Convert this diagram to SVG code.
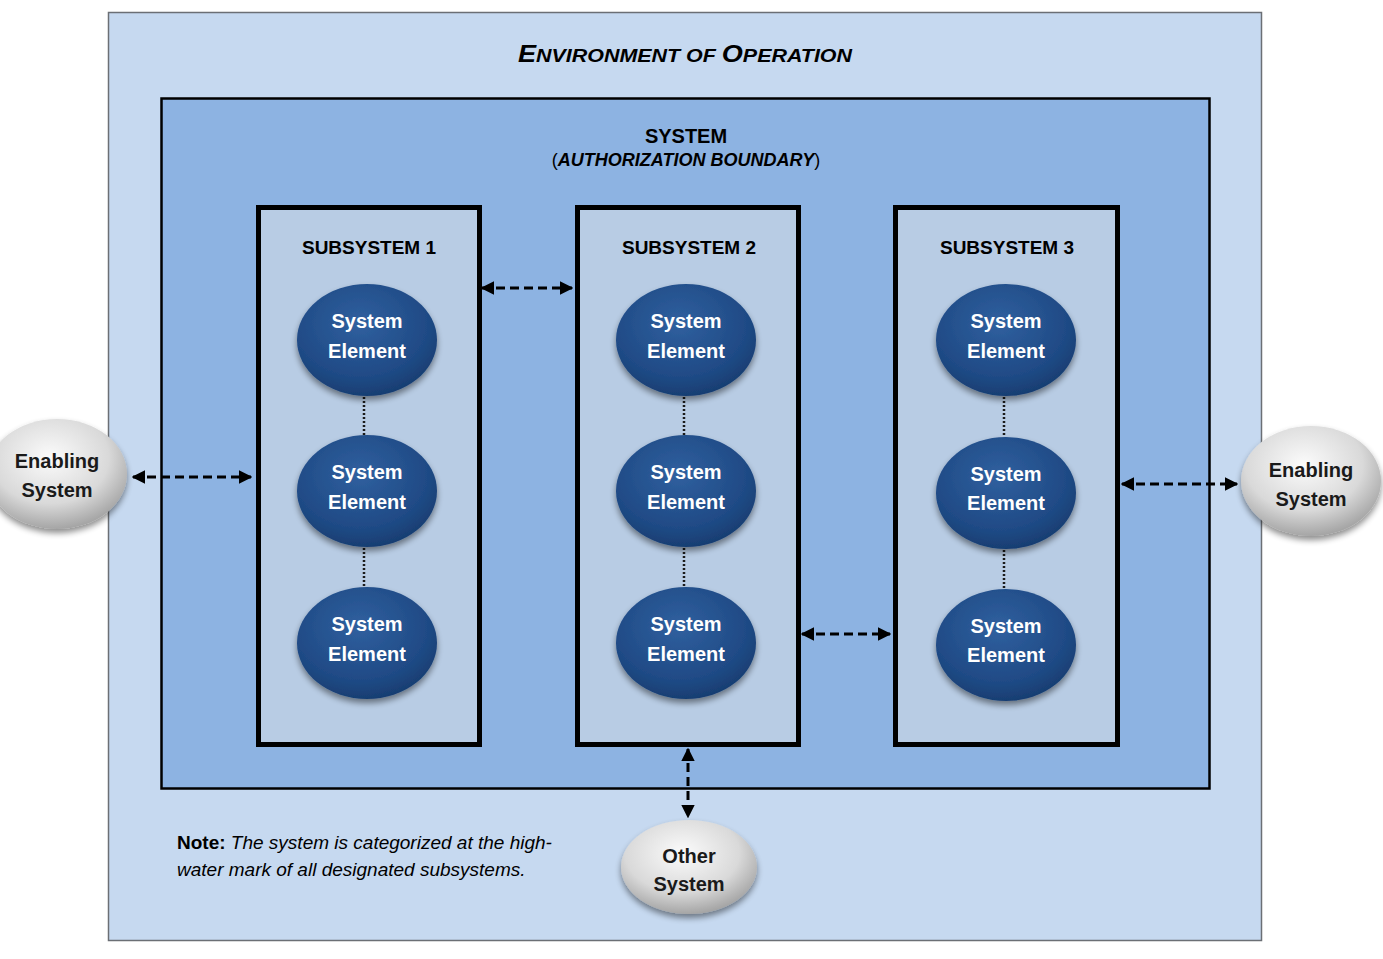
<svg xmlns="http://www.w3.org/2000/svg" width="1383" height="959" viewBox="0 0 1383 959">
<style>
.env{fill:#c6d9f0;stroke:#6b6f75;stroke-width:1.5}
.sys{fill:#8db3e2;stroke:#000;stroke-width:2.5}
.sub{fill:#b8cce4;stroke:#000;stroke-width:5}
.el{fill:url(#blue);filter:url(#sh)}
.ge{fill:url(#gray);filter:url(#sh)}
.wt{font-family:"Liberation Sans",Arial,sans-serif;font-weight:bold;font-size:20px;fill:#fff;text-anchor:middle}
.bt{font-family:"Liberation Sans",Arial,sans-serif;font-weight:bold;font-size:20px;fill:#1a1a1a;text-anchor:middle}
.hd{font-family:"Liberation Sans",Arial,sans-serif;font-weight:bold;fill:#000;text-anchor:middle}
.dot{stroke:#1a1a1a;stroke-width:2.5;stroke-dasharray:2 2;fill:none}
.arr{stroke:#000;stroke-width:3;stroke-dasharray:9 5;fill:none;marker-start:url(#ah);marker-end:url(#ah)}
</style>
<defs>
<radialGradient id="blue" cx="0.45" cy="0.35" r="0.7">
<stop offset="0" stop-color="#30609f"/>
<stop offset="0.7" stop-color="#1f4a85"/>
<stop offset="1" stop-color="#163a6c"/>
</radialGradient>
<radialGradient id="gray" cx="0.45" cy="0.35" r="0.7">
<stop offset="0" stop-color="#fbfbfb"/>
<stop offset="0.6" stop-color="#d9d9d9"/>
<stop offset="1" stop-color="#9a9a9a"/>
</radialGradient>
<filter id="sh" x="-20%" y="-20%" width="140%" height="150%">
<feGaussianBlur in="SourceAlpha" stdDeviation="3"/>
<feOffset dx="0" dy="4" result="b"/>
<feComponentTransfer><feFuncA type="linear" slope="0.45"/></feComponentTransfer>
<feMerge><feMergeNode/><feMergeNode in="SourceGraphic"/></feMerge>
</filter>
<marker id="ah" viewBox="0 0 10 10" refX="9" refY="5" markerWidth="4.5" markerHeight="4.5" orient="auto-start-reverse" markerUnits="strokeWidth">
<path d="M0,0 L10,5 L0,10 Z" fill="#000"/>
</marker>
</defs>
<rect width="1383" height="959" fill="#fff"/>
<g id="environment">
<rect class="env" x="108.5" y="12.5" width="1153" height="928"/>
<text class="hd" x="685" y="62" font-style="italic" textLength="334" lengthAdjust="spacingAndGlyphs"><tspan font-size="24">E</tspan><tspan font-size="19">NVIRONMENT OF </tspan><tspan font-size="24">O</tspan><tspan font-size="19">PERATION</tspan></text>
</g>
<g id="system">
<rect class="sys" x="161.5" y="98.5" width="1048" height="690"/>
<text class="hd" x="686" y="143" font-size="20">SYSTEM</text>
<text class="hd" x="686" y="166" font-size="18"><tspan font-weight="normal">(</tspan><tspan font-style="italic">AUTHORIZATION BOUNDARY</tspan><tspan font-weight="normal">)</tspan></text>
</g>
<g id="subsystem1">
<rect class="sub" x="258.5" y="207.5" width="221" height="537"/>
<text class="hd" x="369" y="254" font-size="19">SUBSYSTEM 1</text>
</g>
<g id="subsystem2">
<rect class="sub" x="577.5" y="207.5" width="221" height="537"/>
<text class="hd" x="689" y="254" font-size="19">SUBSYSTEM 2</text>
</g>
<g id="subsystem3">
<rect class="sub" x="895.5" y="207.5" width="222" height="537"/>
<text class="hd" x="1007" y="254" font-size="19">SUBSYSTEM 3</text>
</g>
<g id="connectors">
<line class="dot" x1="364" y1="397" x2="364" y2="436"/>
<line class="dot" x1="364" y1="548" x2="364" y2="588"/>
<line class="dot" x1="684" y1="397" x2="684" y2="436"/>
<line class="dot" x1="684" y1="548" x2="684" y2="588"/>
<line class="dot" x1="1004" y1="397" x2="1004" y2="437"/>
<line class="dot" x1="1004" y1="550" x2="1004" y2="590"/>
<line class="arr" x1="133" y1="477" x2="251" y2="477"/>
<line class="arr" x1="482" y1="288" x2="572" y2="288"/>
<line class="arr" x1="802" y1="634" x2="890" y2="634"/>
<line class="arr" x1="1122" y1="484" x2="1237" y2="484"/>
<line class="arr" x1="688" y1="749" x2="688" y2="817"/>
</g>
<g id="ss1-e1"><ellipse class="el" cx="367" cy="340" rx="70" ry="56"/><text class="wt" x="367" y="328">System</text><text class="wt" x="367" y="358">Element</text></g>
<g id="ss1-e2"><ellipse class="el" cx="367" cy="491" rx="70" ry="56"/><text class="wt" x="367" y="479">System</text><text class="wt" x="367" y="509">Element</text></g>
<g id="ss1-e3"><ellipse class="el" cx="367" cy="643" rx="70" ry="56"/><text class="wt" x="367" y="631">System</text><text class="wt" x="367" y="661">Element</text></g>
<g id="ss2-e1"><ellipse class="el" cx="686" cy="340" rx="70" ry="56"/><text class="wt" x="686" y="328">System</text><text class="wt" x="686" y="358">Element</text></g>
<g id="ss2-e2"><ellipse class="el" cx="686" cy="491" rx="70" ry="56"/><text class="wt" x="686" y="479">System</text><text class="wt" x="686" y="509">Element</text></g>
<g id="ss2-e3"><ellipse class="el" cx="686" cy="643" rx="70" ry="56"/><text class="wt" x="686" y="631">System</text><text class="wt" x="686" y="661">Element</text></g>
<g id="ss3-e1"><ellipse class="el" cx="1006" cy="340" rx="70" ry="56"/><text class="wt" x="1006" y="328">System</text><text class="wt" x="1006" y="358">Element</text></g>
<g id="ss3-e2"><ellipse class="el" cx="1006" cy="493" rx="70" ry="56"/><text class="wt" x="1006" y="481">System</text><text class="wt" x="1006" y="510">Element</text></g>
<g id="ss3-e3"><ellipse class="el" cx="1006" cy="645" rx="70" ry="56"/><text class="wt" x="1006" y="633">System</text><text class="wt" x="1006" y="662">Element</text></g>
<g id="enabling-left"><ellipse class="ge" cx="57" cy="474" rx="70" ry="55"/><text class="bt" x="57" y="468">Enabling</text><text class="bt" x="57" y="497">System</text></g>
<g id="enabling-right"><ellipse class="ge" cx="1311" cy="481" rx="70" ry="55"/><text class="bt" x="1311" y="477">Enabling</text><text class="bt" x="1311" y="506">System</text></g>
<g id="other-system"><ellipse class="ge" cx="689" cy="867" rx="68" ry="47"/><text class="bt" x="689" y="863">Other</text><text class="bt" x="689" y="891">System</text></g>
<g id="note">
<text font-family="'Liberation Sans',Arial,sans-serif" font-size="19" fill="#000" x="177" y="849"><tspan font-weight="bold">Note:</tspan><tspan font-style="italic"> The system is categorized at the high-</tspan></text>
<text font-family="'Liberation Sans',Arial,sans-serif" font-size="19" font-style="italic" fill="#000" x="177" y="876">water mark of all designated subsystems.</text>
</g>
</svg>
